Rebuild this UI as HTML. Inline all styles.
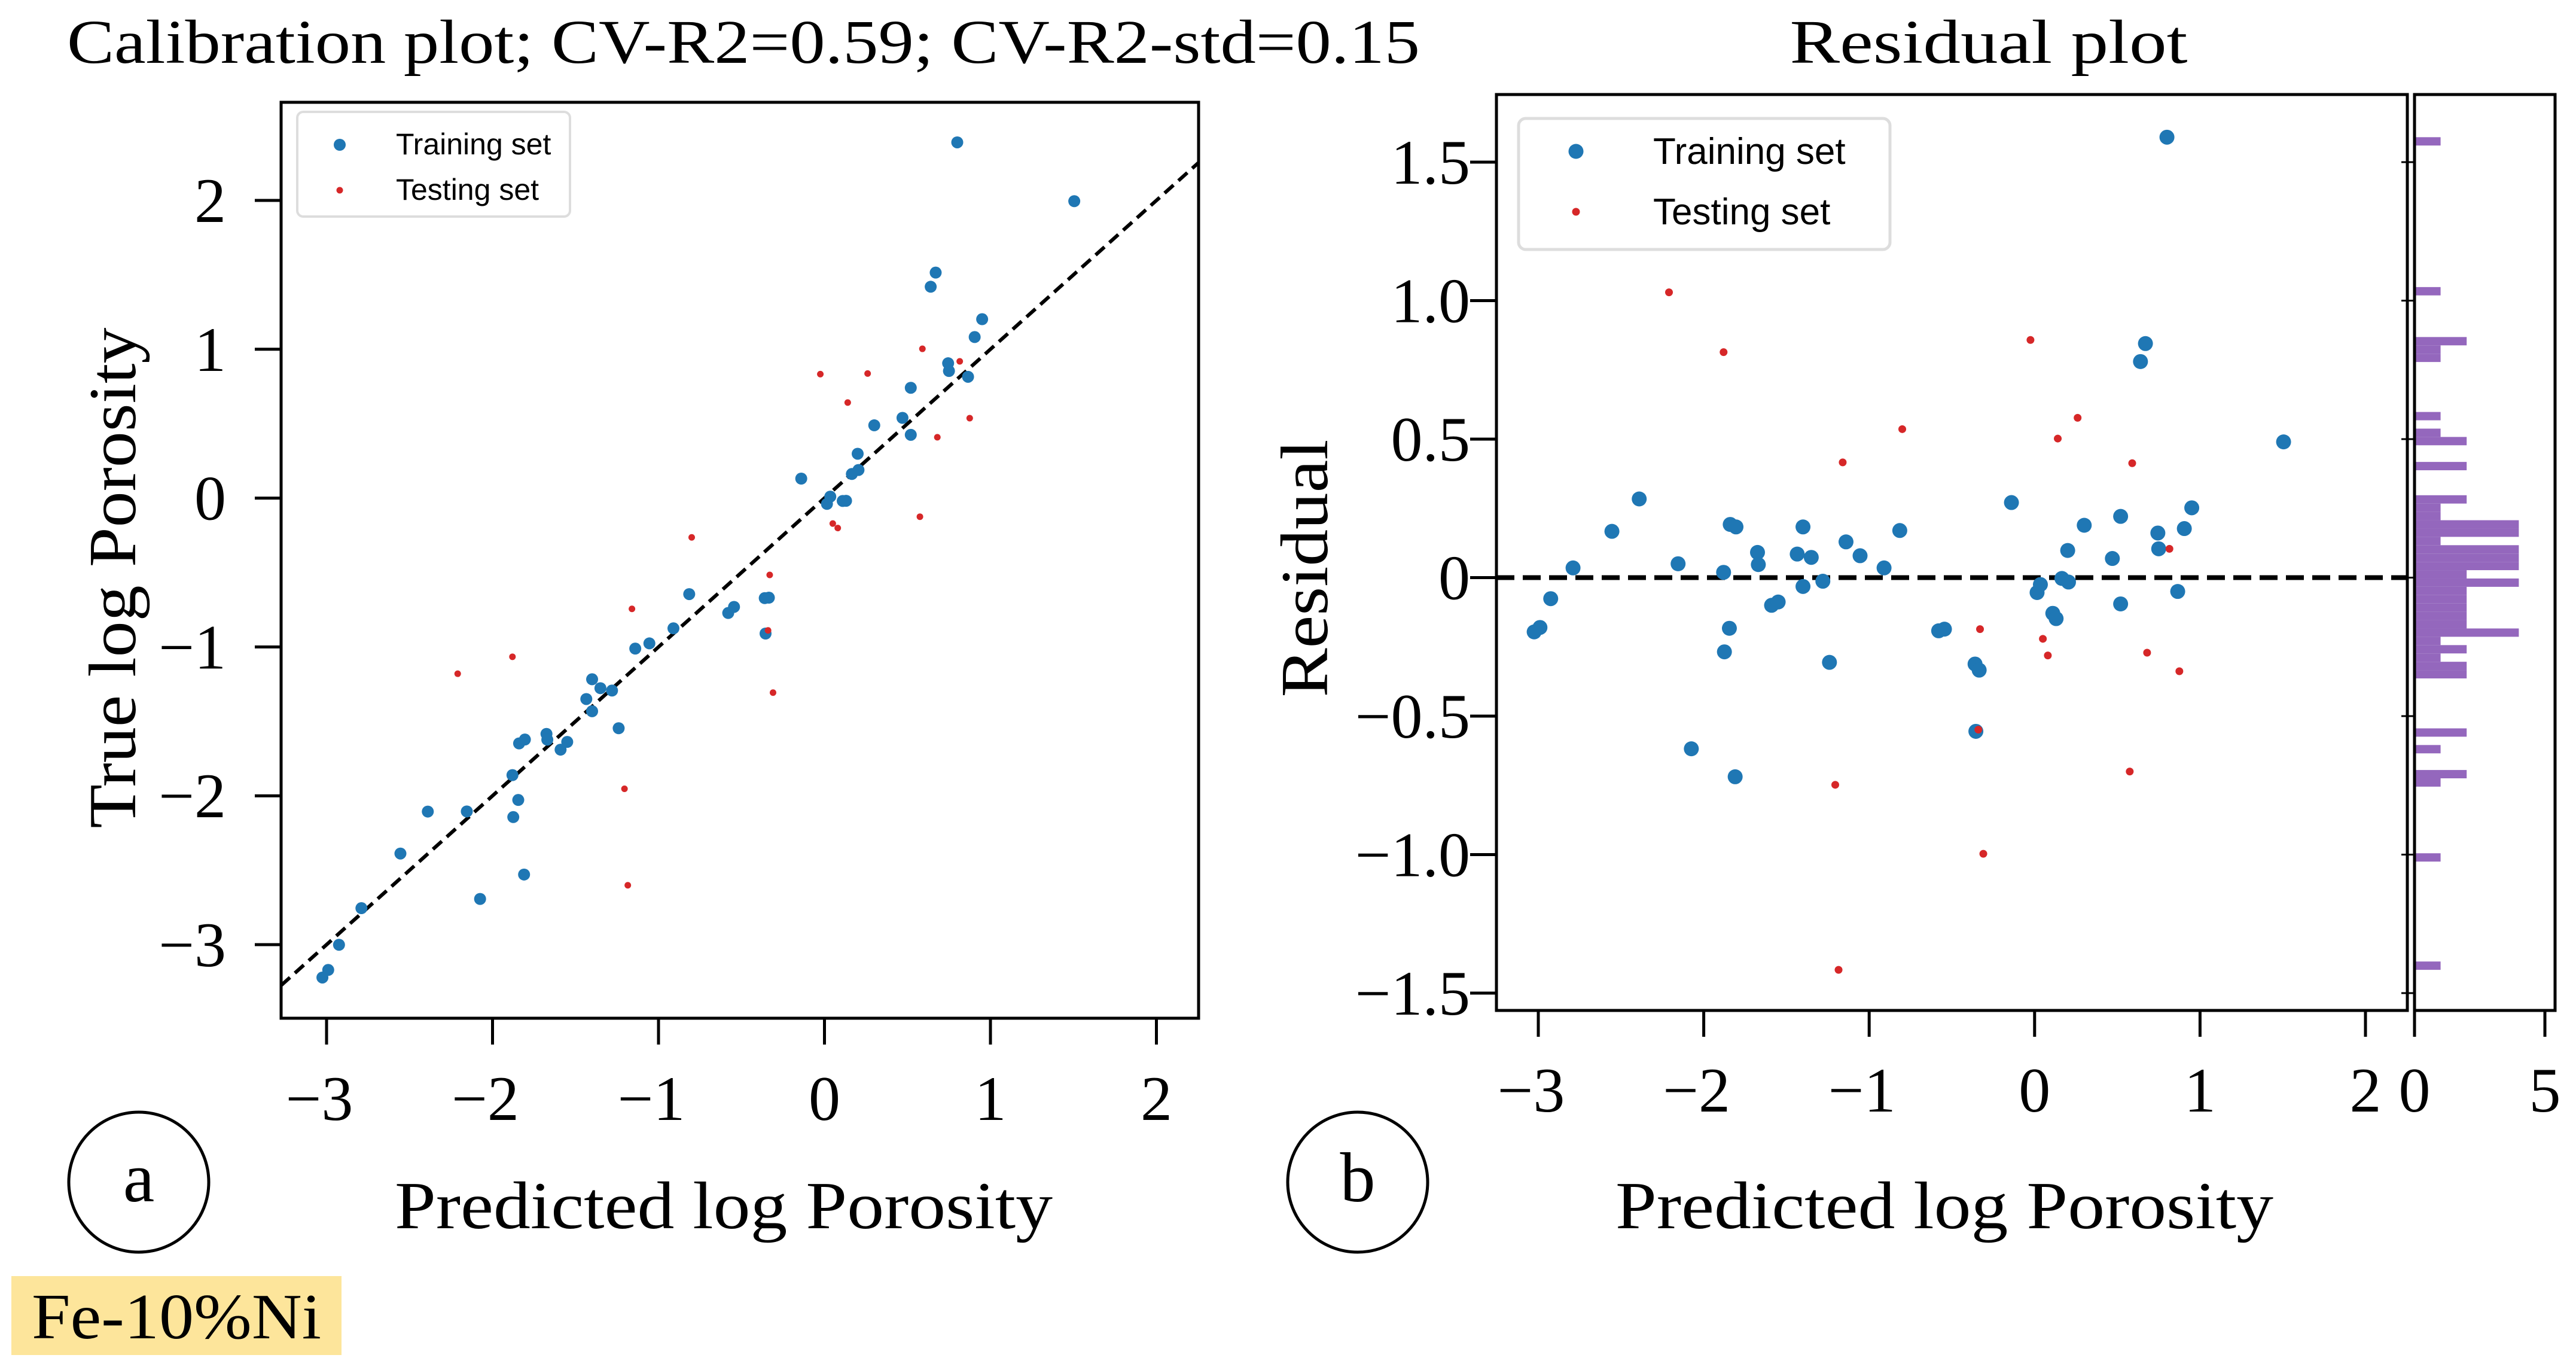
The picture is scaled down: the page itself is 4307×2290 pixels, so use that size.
<!DOCTYPE html>
<html><head><meta charset="utf-8"><style>
html,body{margin:0;padding:0;background:#fff;}
svg{display:block;}
.serif{font-family:"Liberation Serif",serif;}
.sans{font-family:"Liberation Sans",sans-serif;}
</style></head>
<body>
<svg id="fig" width="4307" height="2290" viewBox="0 0 4307 2290" xmlns="http://www.w3.org/2000/svg">
<defs><clipPath id="hclip"><rect x="4037" y="158" width="235" height="1531"/></clipPath></defs>
<rect x="0" y="0" width="4307" height="2290" fill="#fff"/>
<text class="serif" x="1243" y="105" font-size="104" text-anchor="middle" textLength="2262" lengthAdjust="spacingAndGlyphs">Calibration plot; CV-R2=0.59; CV-R2-std=0.15</text>
<text class="serif" x="3325" y="105" font-size="104" text-anchor="middle" textLength="665" lengthAdjust="spacingAndGlyphs">Residual plot</text>
<g id="left"></g>
<g id="right"></g>
<g id="hist"></g>
<text class="serif" x="1210" y="2053" font-size="112" text-anchor="middle" textLength="1100" lengthAdjust="spacingAndGlyphs">Predicted log Porosity</text>
<text class="serif" x="3251" y="2053" font-size="112" text-anchor="middle" textLength="1100" lengthAdjust="spacingAndGlyphs">Predicted log Porosity</text>
<text class="serif" transform="translate(226,966) rotate(-90)" font-size="112" text-anchor="middle" textLength="837" lengthAdjust="spacingAndGlyphs">True log Porosity</text>
<text class="serif" transform="translate(2219,950) rotate(-90)" font-size="112" text-anchor="middle" textLength="431" lengthAdjust="spacingAndGlyphs">Residual</text>
<circle cx="232" cy="1976" r="117" fill="none" stroke="#000" stroke-width="5"/>
<text class="serif" x="232" y="2008" font-size="118" text-anchor="middle">a</text>
<circle cx="2270" cy="1976" r="117" fill="none" stroke="#000" stroke-width="5"/>
<text class="serif" x="2270" y="2008" font-size="118" text-anchor="middle">b</text>
<rect x="19" y="2133" width="552" height="132" fill="#fde59b"/>
<text class="serif" x="295" y="2237" font-size="108" text-anchor="middle" textLength="484" lengthAdjust="spacingAndGlyphs">Fe-10%Ni</text>
</svg>
<script>
const NS="http://www.w3.org/2000/svg";
const trainPred=[0.80,0.67,0.64,1.505,-2.39,-2.555,-2.79,-2.925,-2.99,-3.025,-2.155,-2.075,-1.88,-1.875,-1.84,-1.805,-1.845,-1.81,-1.675,-1.67,-1.59,-1.55,-1.435,-1.40,-1.40,-1.35,-1.28,-1.24,-1.14,-1.055,-0.91,-0.815,-0.58,-0.545,-0.36,-0.335,-0.355,-0.14,0.015,0.035,0.11,0.13,0.165,0.205,0.20,0.30,0.47,0.52,0.52,0.745,0.75,0.865,0.905,0.95];
const trainRes=[1.59,0.845,0.78,0.49,0.284,0.167,0.035,-0.076,-0.18,-0.196,0.05,-0.618,0.019,-0.268,0.192,0.183,-0.183,-0.719,0.091,0.047,-0.10,-0.088,0.085,0.183,-0.032,0.073,-0.013,-0.306,0.129,0.079,0.035,0.170,-0.192,-0.186,-0.312,-0.334,-0.555,0.271,-0.054,-0.025,-0.129,-0.148,-0.003,-0.016,0.098,0.189,0.069,0.221,-0.095,0.161,0.104,-0.050,0.177,0.252];
const testPred=[-2.21,-1.88,-0.80,-1.16,-0.025,0.14,0.26,0.59,0.815,-0.33,0.05,0.08,0.68,0.875,-0.34,0.575,-1.205,-0.31,-1.185];
const testRes=[1.03,0.814,0.536,0.416,0.858,0.502,0.577,0.413,0.104,-0.186,-0.221,-0.281,-0.271,-0.338,-0.549,-0.70,-0.748,-0.997,-1.416];
const leftXTicks=[-3,-2,-1,0,1,2];
const leftYTicks=[-3,-2,-1,0,1,2];
const rightXTicks=[-3,-2,-1,0,1,2];
const rightYTicks=[-1.5,-1.0,-0.5,0,0.5,1.0,1.5];
const rightYLabels=["\u22121.5","\u22121.0","\u22120.5","0","0.5","1.0","1.5"];
const histTicks=[0,5];
const histBinCount=100;

const lx=v=>546+(v+3)*277.5, ly=v=>1579-(v+3)*248.8;
const rx=v=>2572+(v+3)*276.6, ry=v=>965.5-v*463;
const hx=c=>4037+c*43.6;
const L={x0:470,x1:2004,y0:171,y1:1702};
const R={x0:2502,x1:4025,y0:158,y1:1689};
const H={x0:4037,x1:4272,y0:158,y1:1689};
function mk(parent,tag,attrs){const e=document.createElementNS(NS,tag);for(const k in attrs)e.setAttribute(k,attrs[k]);parent.appendChild(e);return e;}
function lbl(v){return v<0?"\u2212"+Math.abs(v):String(v);}

const gl=document.getElementById('left'), gr=document.getElementById('right'), gh=document.getElementById('hist');
let e;
leftXTicks.forEach(v=>{
  e=mk(gl,'line',{x1:lx(v),x2:lx(v),y1:L.y1,y2:L.y1+44,stroke:'#000','stroke-width':5});
  
  
  e=mk(gl,'text',{x:lx(v)-(v<0?12:0),y:1872,'font-size':106,'text-anchor':'middle',class:'serif'});e.textContent=lbl(v);
  
  
});
leftYTicks.forEach(v=>{
  e=mk(gl,'line',{x1:L.x0-44,x2:L.x0,y1:ly(v),y2:ly(v),stroke:'#000','stroke-width':5});
  
  
  e=mk(gl,'text',{x:378,y:ly(v)+36,'font-size':106,'text-anchor':'end',class:'serif'});e.textContent=lbl(v);
  
  
});
const dmin=-3.274,dmax=2.254;
e=mk(gl,'line',{x1:lx(dmin),y1:ly(dmin),x2:lx(dmax),y2:ly(dmax),stroke:'#000','stroke-width':6,'stroke-dasharray':'20 11'});


trainPred.forEach((p,i)=>{
  e=mk(gl,'circle',{cx:lx(p),cy:ly(p+trainRes[i]),r:10,fill:'#1f77b4'});
  
  
});
testPred.forEach((p,i)=>{
  e=mk(gl,'circle',{cx:lx(p),cy:ly(p+testRes[i]),r:5.5,fill:'#d62728'});
  
  
});
e=mk(gl,'rect',{x:L.x0,y:L.y0,width:L.x1-L.x0,height:L.y1-L.y0,fill:'none',stroke:'#000','stroke-width':5});


const lg=mk(gl,'g',{});


mk(lg,'rect',{x:497,y:187,width:456,height:175,rx:10,fill:'#fff',stroke:'#ddd','stroke-width':4});
mk(lg,'circle',{cx:568,cy:242,r:10,fill:'#1f77b4'});
e=mk(lg,'text',{x:662,y:258,'font-size':50,class:'sans'});e.textContent='Training set';


mk(lg,'circle',{cx:568,cy:318,r:5.5,fill:'#d62728'});
e=mk(lg,'text',{x:662,y:334,'font-size':50,class:'sans'});e.textContent='Testing set';



rightXTicks.forEach(v=>{
  e=mk(gr,'line',{x1:rx(v),x2:rx(v),y1:R.y1,y2:R.y1+44,stroke:'#000','stroke-width':5});
  
  
  e=mk(gr,'text',{x:rx(v)-(v<0?12:0),y:1858,'font-size':106,'text-anchor':'middle',class:'serif'});e.textContent=lbl(v);
  
  
});
rightYTicks.forEach((v,i)=>{
  e=mk(gr,'line',{x1:R.x0-44,x2:R.x0,y1:ry(v),y2:ry(v),stroke:'#000','stroke-width':5});
  
  
  e=mk(gr,'line',{x1:R.x1-10,x2:H.x0,y1:ry(v),y2:ry(v),stroke:'#000','stroke-width':3});
  
  
  e=mk(gr,'text',{x:2458,y:ry(v)+36,'font-size':106,'text-anchor':'end',class:'serif'});e.textContent=rightYLabels[i];
  
  
});
e=mk(gr,'line',{x1:R.x0,x2:R.x1,y1:ry(0),y2:ry(0),stroke:'#000','stroke-width':8,'stroke-dasharray':'30 14'});


trainPred.forEach((p,i)=>{
  e=mk(gr,'circle',{cx:rx(p),cy:ry(trainRes[i]),r:12.5,fill:'#1f77b4'});
  
  
});
testPred.forEach((p,i)=>{
  e=mk(gr,'circle',{cx:rx(p),cy:ry(testRes[i]),r:6.5,fill:'#d62728'});
  
  
});
e=mk(gr,'rect',{x:R.x0,y:R.y0,width:R.x1-R.x0,height:R.y1-R.y0,fill:'none',stroke:'#000','stroke-width':5});


const rg=mk(gr,'g',{});


mk(rg,'rect',{x:2539,y:198,width:621,height:219,rx:12,fill:'#fff',stroke:'#ddd','stroke-width':5});
mk(rg,'circle',{cx:2635,cy:253,r:12.5,fill:'#1f77b4'});
e=mk(rg,'text',{x:2764,y:274,'font-size':62,class:'sans'});e.textContent='Training set';


mk(rg,'circle',{cx:2635,cy:354,r:6.5,fill:'#d62728'});
e=mk(rg,'text',{x:2764,y:375,'font-size':62,class:'sans'});e.textContent='Testing set';



const allRes=trainRes.concat(testRes);
const mn=Math.min(...allRes), mx=Math.max(...allRes), bw=(mx-mn)/histBinCount;
const counts=new Array(histBinCount).fill(0);
allRes.forEach(r=>{let k=Math.floor((r-mn)/bw);if(k>=histBinCount)k=histBinCount-1;counts[k]++;});
const hb=mk(gh,'g',{'clip-path':'url(#hclip)'});
counts.forEach((c,k)=>{
  if(!c)return;
  const lo=mn+k*bw, hi=lo+bw;
  e=mk(hb,'rect',{x:hx(0),y:ry(hi),width:hx(c)-hx(0),height:ry(lo)-ry(hi),fill:'#9467bd'});
  
  
});
histTicks.forEach(v=>{
  e=mk(gh,'line',{x1:hx(v),x2:hx(v),y1:H.y1,y2:H.y1+44,stroke:'#000','stroke-width':5});
  
  
  e=mk(gh,'text',{x:hx(v),y:1858,'font-size':106,'text-anchor':'middle',class:'serif'});e.textContent=String(v);
  
  
});
e=mk(gh,'rect',{x:H.x0,y:H.y0,width:H.x1-H.x0,height:H.y1-H.y0,fill:'none',stroke:'#000','stroke-width':5});


</script>
</body></html>
